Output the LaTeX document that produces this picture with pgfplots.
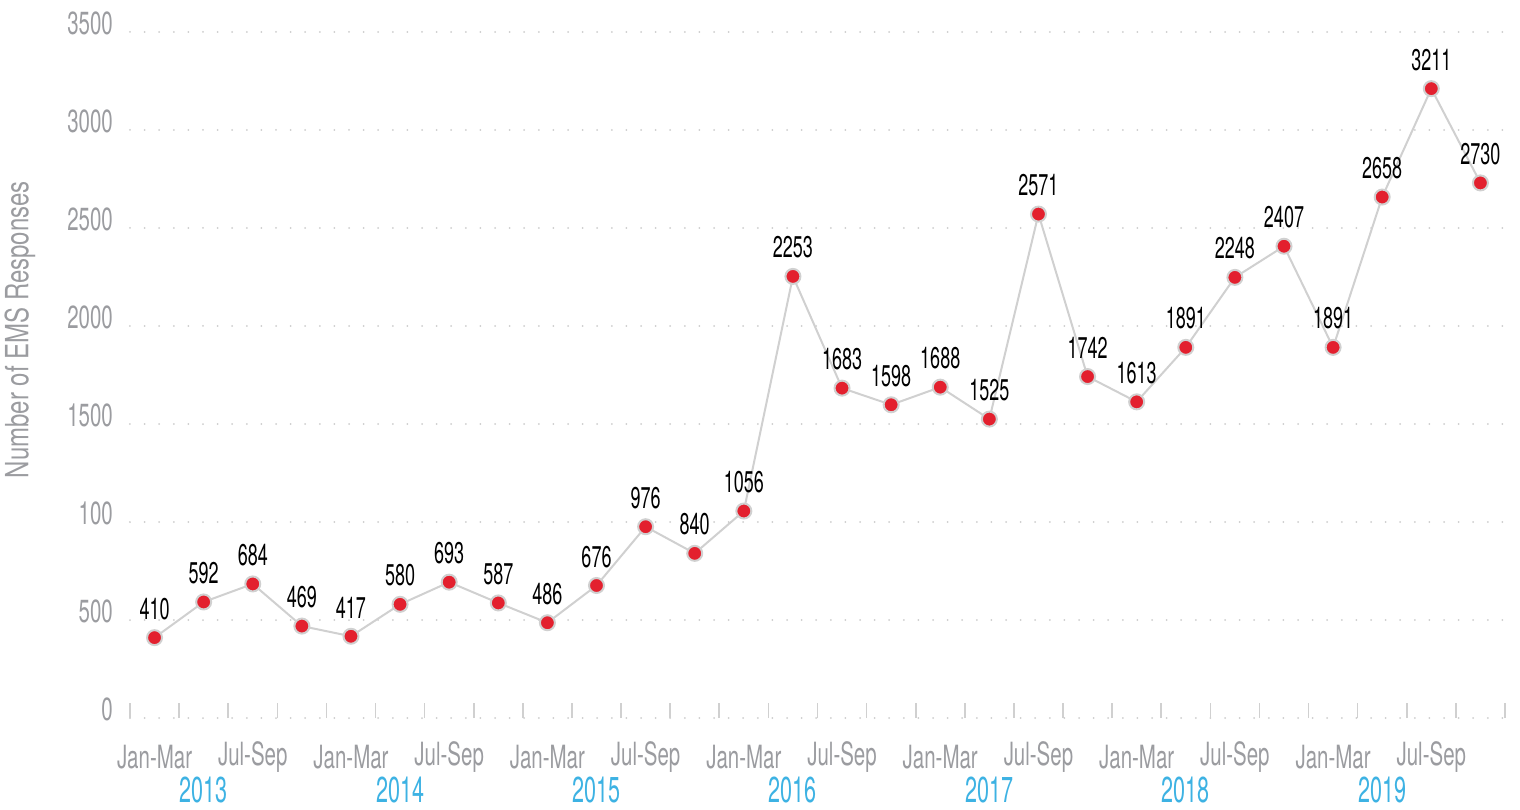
\documentclass[border=0pt]{standalone}
\usepackage{pgfplots}
\pgfplotsset{compat=1.18}
\usepackage{fontspec}
\setmainfont{TeX Gyre Heros}[FakeStretch=0.64]
\newfontfamily\datafont{TeX Gyre Heros}[FakeStretch=0.6]
\newfontfamily\yearfont{TeX Gyre Heros}[FakeStretch=0.6]
\newfontfamily\labfont{TeX Gyre Heros}[FakeStretch=0.75]
\definecolor{ptred}{HTML}{E3202E}
\definecolor{linegrey}{HTML}{D0D0D0}
\definecolor{txtgrey}{HTML}{9B9CA0}
\definecolor{yearblue}{HTML}{3DB2E3}
\definecolor{gridgrey}{HTML}{CCCCCC}
\begin{document}
\begin{tikzpicture}
\useasboundingbox (-130pt,-91pt) rectangle (1390pt,718pt);
\begin{axis}[
  scale only axis, width=1375pt, height=686pt,
  xmin=-0.5, xmax=27.5, ymin=0, ymax=3500,
  clip=false,
  axis line style={draw=none},
  xtick pos=bottom,
  xtick={-0.5,0.5,...,27.5},
  xticklabels={},
  major tick length=15pt,
  tick align=inside,
  x tick style={draw=linegrey, line width=1.6pt},
  ytick={0,500,...,3500},
  yticklabels={0,500,100,1500,2000,2500,3000,3500},
  y tick style={draw=none},
  yticklabel style={anchor=east, inner sep=0pt, xshift=-17pt, yshift=9pt, text=txtgrey, font=\fontsize{32}{34}\selectfont},
  ymajorgrids,
  grid style={draw=gridgrey, line width=2pt, dash pattern=on 0pt off 14.6pt, line cap=round},
  /pgf/number format/assume math mode=true,
  /pgf/number format/1000 sep={},
  nodes near coords,
  nodes near coords style={anchor=south, inner sep=0pt, yshift=17pt, text=black, font=\datafont\fontsize{30}{32}\selectfont},
]
\addplot[color=linegrey, line width=2pt, mark=*, mark size=7.5pt, mark options={draw=none, fill=ptred}] coordinates {
(0,410) (1,592) (2,684) (3,469)
(4,417) (5,580) (6,693) (7,587)
(8,486) (9,676) (10,976) (11,840)
(12,1056) (13,2253) (14,1683) (15,1598)
(16,1688) (17,1525) (18,2571) (19,1742)
(20,1613) (21,1891) (22,2248) (23,2407)
(24,1891) (25,2658) (26,3211) (27,2730)
};
\pgfplotsinvokeforeach{0,...,6}{
  \node[inner sep=0pt, text=txtgrey, font=\fontsize{32}{34}\selectfont] at ([yshift=-39pt]axis cs:4*#1,0) {Jan-Mar};
  \node[inner sep=0pt, text=txtgrey, font=\fontsize{32}{34}\selectfont] at ([yshift=-39pt]axis cs:4*#1+2,0) {Jul-Sep};
  \node[inner sep=0pt, text=yearblue, font=\yearfont\fontsize{36}{38}\selectfont] at ([yshift=-72pt]axis cs:4*#1+1,0) {\the\numexpr2013+#1\relax};
}
\node[rotate=90, inner sep=0pt, text=txtgrey, font=\labfont\fontsize{32}{34}\selectfont] at ([xshift=-110pt]rel axis cs:0,0.566) {Number of EMS Responses};
\end{axis}
\end{tikzpicture}
\end{document}
